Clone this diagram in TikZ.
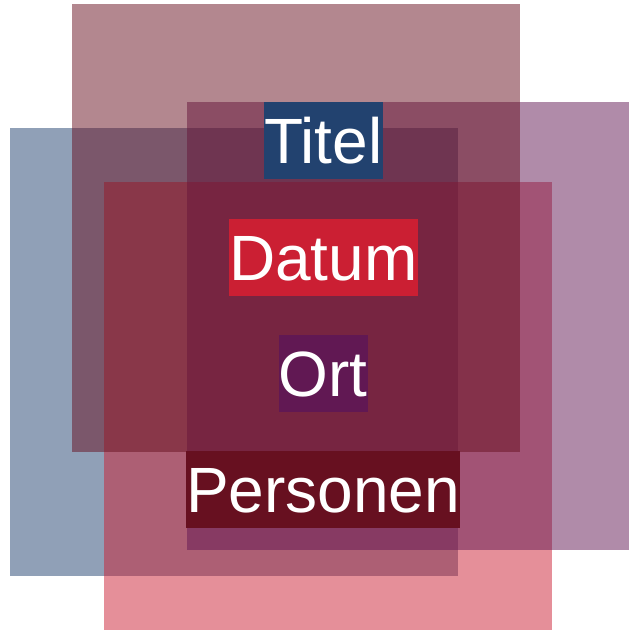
\documentclass[tikz,border=0pt]{standalone}
\usepackage{fontspec}
\setmainfont{Liberation Sans}
\definecolor{cblue}{HTML}{22426F}
\definecolor{cred}{HTML}{CB1F33}
\definecolor{cpurple}{HTML}{611853}
\definecolor{cdark}{HTML}{671020}
\begin{document}
\begin{tikzpicture}[x=1pt,y=-1pt,
  panel/.style={fill opacity=0.5},
  tag/.style={inner sep=0pt, text=white, text height=61.3pt, text depth=15.4pt,
    font=\fontsize{64}{77}\selectfont, anchor=north}]
\useasboundingbox (0,0) rectangle (629,630);
\begin{scope}
\clip (0,0) rectangle (629,630);
\fill[panel, cblue] (10,128) rectangle (458,576);
\fill[panel, cred] (104,182) rectangle (552,630);
\fill[panel, cpurple] (187,102) rectangle (635,550);
\fill[panel, cdark] (72,4) rectangle (520,452);
\end{scope}
\node[tag, fill=cblue] (titel) at (323.3,102) {Titel};
\node[tag, fill=cred] (datum) at (323.3,219) {Datum};
\node[tag, fill=cpurple] (ort) at (323.3,335) {Ort};
\node[tag, fill=cdark] (personen) at (323,451) {Personen};
\end{tikzpicture}
\end{document}
